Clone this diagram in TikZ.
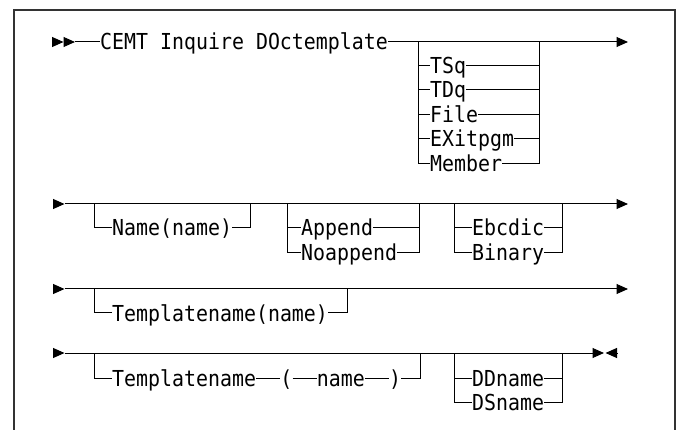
\documentclass[tikz,border=0pt]{standalone}
\usepackage{fontspec}
\newfontfamily\railfont[FakeStretch=0.905]{DejaVu Sans Mono}
\usetikzlibrary{positioning, arrows.meta, calc}
\tikzset{
        rail-text/.style={
            font=\railfont\fontsize{22}{26}\selectfont, inner sep=0pt, text height=16pt, text depth=0pt, anchor=west
        },
        rail-line/.style={
            line width=1pt, black
        },
        rail-tip/.style={
            -{Triangle[length=11.5pt, width=10pt]}
        },
        rail-frame/.style={
            line width=1.6pt, black!80
        },
}

\begin{document}
\begin{tikzpicture}[x=1pt, y=-1pt, node distance=24pt]
        \useasboundingbox (0,0) rectangle (680,430);

        % FRAME
        \draw [rail-frame] (14,430) -- (14,10) -- (675,10) -- (675,430);

        %DRAW NODES (row 1: command and its first group)
        \coordinate   (S1a)  at (52,42);
        \coordinate   (S1b)  at (63.5,42);
        \coordinate   (S1c)  at (75,42);
        \node [rail-text]  (CMD)     at (100,42)               {CEMT Inquire DOctemplate};
        \coordinate   (E1)   at (628,42);
        \coordinate   (G1L)  at (418,42);
        \coordinate   (G1R)  at (539,42);
        \node [rail-text]  (TSQ)     at ($(G1L)+(12,23.5)$)    {TSq};
        \node [rail-text]  (TDQ)     at ($(TSQ.west)+(0,24.4)$)  {TDq};
        \node [rail-text]  (FILE)    at ($(TDQ.west)+(0,24.4)$)  {File};
        \node [rail-text]  (EXIT)    at ($(FILE.west)+(0,24.4)$) {EXitpgm};
        \node [rail-text]  (MEMBER)  at ($(EXIT.west)+(0,24.4)$) {Member};

        % row 2
        \coordinate   (S2a)  at (53,204);
        \coordinate   (S2b)  at (64.5,204);
        \coordinate   (E2)   at (628,204);
        \coordinate   (N2L)  at (94,204);
        \coordinate   (N2R)  at (250,204);
        \coordinate   (A2L)  at (287,204);
        \coordinate   (A2R)  at (419,204);
        \coordinate   (C2L)  at (454,204);
        \coordinate   (C2R)  at (562,204);
        \node [rail-text]  (NAME)    at ($(N2L)+(18,24)$)      {Name(name)};
        \node [rail-text]  (APP)     at ($(A2L)+(14,24)$)      {Append};
        \node [rail-text]  (NOAPP)   at ($(APP.west)+(0,24.4)$)  {Noappend};
        \node [rail-text]  (EBC)     at ($(C2L)+(18,24)$)      {Ebcdic};
        \node [rail-text]  (BIN)     at ($(EBC.west)+(0,24.4)$)  {Binary};

        % row 3
        \coordinate   (S3a)  at (53,289);
        \coordinate   (S3b)  at (64.5,289);
        \coordinate   (E3)   at (628,289);
        \coordinate   (T3L)  at (94,289);
        \coordinate   (T3R)  at (347,289);
        \node [rail-text]  (TNAME3)  at ($(T3L)+(18,24)$)      {Templatename(name)};

        % row 4
        \coordinate   (S4a)  at (53,353);
        \coordinate   (S4b)  at (64.5,353);
        \coordinate   (E4)   at (604,353);
        \coordinate   (F4a)  at (617,353);
        \coordinate   (F4b)  at (605.5,353);
        \coordinate   (T4L)  at (94,353);
        \coordinate   (T4R)  at (420,353);
        \coordinate   (D4L)  at (454,353);
        \coordinate   (D4R)  at (562,353);
        \node [rail-text]  (TNAME4)  at ($(T4L)+(18,25)$)      {Templatename};
        \node [rail-text, right=of TNAME4]  (LPAR)  {(};
        \node [rail-text, right=of LPAR]    (VAL)   {name};
        \node [rail-text, right=of VAL]     (RPAR)  {)};
        \node [rail-text]  (DDN)     at ($(D4L)+(18,25)$)      {DDname};
        \node [rail-text]  (DSN)     at ($(DDN.west)+(0,24.4)$)  {DSname};

        % CONNECT ROW 1
        \draw [rail-line, rail-tip] (S1a) -- (S1b);
        \draw [rail-line, rail-tip] (S1b) -- (S1c);
        \draw [rail-line] (S1c) -- (CMD.west);
        \draw [rail-line, rail-tip] (CMD.east) -- (E1);
        \draw [rail-line] (G1L) |- (MEMBER.west);
        \draw [rail-line] (MEMBER.east) -| (G1R);
        \draw [rail-line] (G1L |- TSQ.west) -- (TSQ.west);
        \draw [rail-line] (TSQ.east) -- (TSQ.east -| G1R);
        \draw [rail-line] (G1L |- TDQ.west) -- (TDQ.west);
        \draw [rail-line] (TDQ.east) -- (TDQ.east -| G1R);
        \draw [rail-line] (G1L |- FILE.west) -- (FILE.west);
        \draw [rail-line] (FILE.east) -- (FILE.east -| G1R);
        \draw [rail-line] (G1L |- EXIT.west) -- (EXIT.west);
        \draw [rail-line] (EXIT.east) -- (EXIT.east -| G1R);

        % CONNECT ROW 2
        \draw [rail-line, rail-tip] (S2a) -- (S2b);
        \draw [rail-line, rail-tip] (S2b) -- (E2);
        \draw [rail-line] (N2L) |- (NAME.west);
        \draw [rail-line] (NAME.east) -| (N2R);
        \draw [rail-line] (A2L) |- (NOAPP.west);
        \draw [rail-line] (NOAPP.east) -| (A2R);
        \draw [rail-line] (A2L |- APP.west) -- (APP.west);
        \draw [rail-line] (APP.east) -- (APP.east -| A2R);
        \draw [rail-line] (C2L) |- (BIN.west);
        \draw [rail-line] (BIN.east) -| (C2R);
        \draw [rail-line] (C2L |- EBC.west) -- (EBC.west);
        \draw [rail-line] (EBC.east) -- (EBC.east -| C2R);

        % CONNECT ROW 3
        \draw [rail-line, rail-tip] (S3a) -- (S3b);
        \draw [rail-line, rail-tip] (S3b) -- (E3);
        \draw [rail-line] (T3L) |- (TNAME3.west);
        \draw [rail-line] (TNAME3.east) -| (T3R);

        % CONNECT ROW 4
        \draw [rail-line, rail-tip] (S4a) -- (S4b);
        \draw [rail-line, rail-tip] (S4b) -- (E4);
        \draw [rail-line, rail-tip] (F4a) -- (F4b);
        \draw [rail-line] (T4L) |- (TNAME4.west);
        \draw [rail-line] (TNAME4.east) -- (LPAR.west);
        \draw [rail-line] (LPAR.east) -- (VAL.west);
        \draw [rail-line] (VAL.east) -- (RPAR.west);
        \draw [rail-line] (RPAR.east) -| (T4R);
        \draw [rail-line] (D4L) |- (DSN.west);
        \draw [rail-line] (DSN.east) -| (D4R);
        \draw [rail-line] (D4L |- DDN.west) -- (DDN.west);
        \draw [rail-line] (DDN.east) -- (DDN.east -| D4R);

\end{tikzpicture}
\end{document}
